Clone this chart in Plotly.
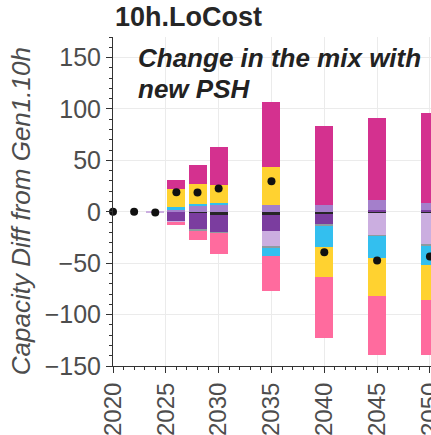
import numpy as np
import plotly.graph_objects as go

# Capacity change per technology relative to the Gen1.10h baseline (GW)
years = [2020, 2022, 2024, 2026, 2028, 2030, 2035, 2040, 2045, 2050]

coal      = [0, 0, 0,    -0.6,  -1.5,  -2.8,  -2.9,  -2.6,  -1.0,  -1.0]
gas_cc    = [0, 0, 0,    -8.5, -15.7, -17.6, -16.0,  -9.8,   2.0,   1.5]
battery   = [0, 0, 0,     1.6,   6.0,   7.0,   6.4,   6.4,   9.3,   7.3]
gas_ct    = [0, 0, -0.6, -1.6,   0.0,   0.0, -15.1,   0.0, -22.0, -31.0]
nuclear   = [0, 0, 0,     0.0,  -1.5,  -0.7,  -1.7,  -1.0,  -0.8,  -0.8]
hydro     = [0, 0, 0,     2.9,   1.1,   1.1,  -7.5, -20.6, -21.0, -19.4]
solar     = [0, 0, 0,    17.9,  19.5,  17.5,  37.4, -29.3, -37.4, -34.0]
wind      = [0, 0, 0,     9.0,  19.2,  37.7,  63.2,  77.0,  80.2,  86.9]
wind_off  = [0, 0, 0,    -1.7,  -8.3, -19.5, -34.1, -59.4, -56.8, -53.0]

x_ticks = [2020, 2025, 2030, 2035, 2040, 2045, 2050]

series = [
    ("Coal", coal, "#262626"),
    ("Gas-CC", gas_cc, "#7B3D9F"),
    ("Battery", battery, "#A47FCB"),
    ("Gas-CT", gas_ct, "#CBAEE0"),
    ("Nuclear", nuclear, "#8E9AA0"),
    ("Hydro", hydro, "#33BFEF"),
    ("Solar", solar, "#FFD230"),
    ("Wind", wind, "#D4318F"),
    ("Offshore Wind", wind_off, "#FF6B9E"),
]

net = np.sum(np.array([s[1] for s in series]), axis=0)

FONT = "Liberation Sans, Arial, sans-serif"

fig = go.Figure()
for name, vals, color in series:
    fig.add_trace(go.Bar(
        x=years, y=vals, name=name, width=1.7,
        marker=dict(color=color, line=dict(width=0)),
        showlegend=False,
    ))

fig.add_trace(go.Scatter(
    x=years, y=net, mode="markers", name="Net change",
    marker=dict(color="#111111", size=8),
    cliponaxis=False, showlegend=False,
))

axis_common = dict(
    showline=True, linecolor="#333333", linewidth=1,
    showgrid=True, gridcolor="#EBEBEB", gridwidth=1,
    zeroline=False, ticks="outside", ticklen=6, tickcolor="#333333",
    automargin=False, ticklabeloverflow="allow",
)

fig.update_layout(
    width=431, height=435,
    margin=dict(l=113, r=0, t=37, b=69),
    paper_bgcolor="white", plot_bgcolor="white",
    barmode="relative", bargap=0,
    font=dict(family=FONT),
    xaxis=dict(
        range=[2020, 2050.1], tickmode="array", tickvals=x_ticks,
        ticktext=[str(t) for t in x_ticks], tickangle=-90,
        tickfont=dict(family=FONT, size=24, color="#4D4D4D"),
        minor=dict(dtick=1, tick0=2020, ticks="outside", ticklen=3,
                   tickcolor="#333333", showgrid=False),
        **axis_common,
    ),
    yaxis=dict(
        range=[-150, 170], tick0=0, dtick=50,
        tickfont=dict(family=FONT, size=25, color="#4D4D4D"),
        minor=dict(dtick=10, tick0=0, ticks="outside", ticklen=3,
                   tickcolor="#333333", showgrid=False),
        **axis_common,
    ),
    annotations=[
        dict(text="<b>10h.LoCost</b>", xref="paper", yref="paper",
             x=0, y=1, xanchor="left", yanchor="bottom", yshift=3,
             showarrow=False, font=dict(family=FONT, size=27, color="#262626")),
        dict(text="<i>Capacity Diff from Gen1.10h</i>", xref="paper", yref="paper",
             x=-0.291, y=0.472, xanchor="center", yanchor="middle", textangle=-90,
             showarrow=False, font=dict(family=FONT, size=26, color="#4D4D4D")),
        dict(text="<b><i>Change in the mix with</i></b>", xref="paper", yref="paper",
             x=0.072, y=1, xanchor="left", yanchor="top", yshift=-4,
             showarrow=False, font=dict(family=FONT, size=26, color="#222222")),
        dict(text="<b><i>new PSH</i></b>", xref="paper", yref="paper",
             x=0.072, y=1, xanchor="left", yanchor="top", yshift=-35,
             showarrow=False, font=dict(family=FONT, size=26, color="#222222")),
    ],
)

fig.write_html("out.html")
